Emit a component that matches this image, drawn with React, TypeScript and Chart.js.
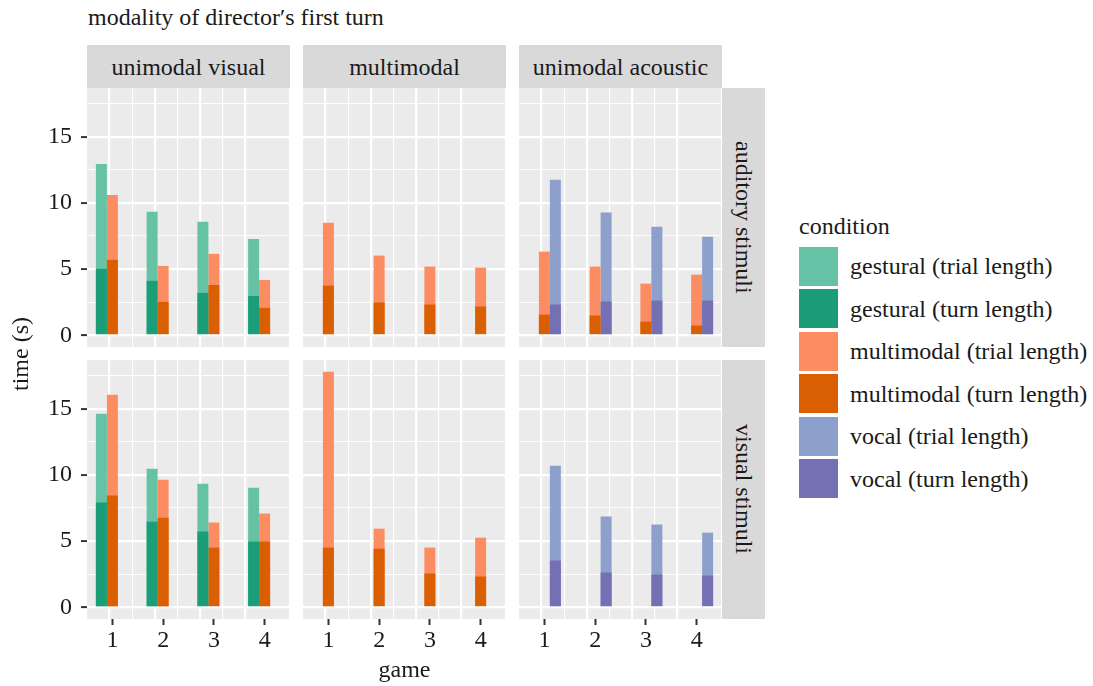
import React, { useEffect, useRef } from 'react';
import { Chart, registerables } from 'chart.js';

Chart.register(...registerables);

// ---------- data ----------
const GAMES = ['1', '2', '3', '4'];
const ROW_LABELS = ['auditory stimuli', 'visual stimuli'];
const COL_LABELS = ['unimodal visual', 'multimodal', 'unimodal acoustic'];

// auditory stimuli (top row)
const AUD_UV_GESTURAL_TRIAL = [12.95, 9.33, 8.57, 7.28];
const AUD_UV_GESTURAL_TURN = [5.02, 4.11, 3.2, 2.97];
const AUD_UV_MULTI_TRIAL = [10.61, 5.24, 6.15, 4.18];
const AUD_UV_MULTI_TURN = [5.7, 2.52, 3.8, 2.07];
const AUD_MM_MULTI_TRIAL = [8.51, 6.02, 5.19, 5.11];
const AUD_MM_MULTI_TURN = [3.75, 2.47, 2.32, 2.17];
const AUD_UA_MULTI_TRIAL = [6.32, 5.19, 3.9, 4.58];
const AUD_UA_MULTI_TURN = [1.56, 1.49, 1.03, 0.73];
const AUD_UA_VOCAL_TRIAL = [11.76, 9.27, 8.21, 7.45];
const AUD_UA_VOCAL_TURN = [2.32, 2.55, 2.62, 2.62];

// visual stimuli (bottom row)
const VIS_UV_GESTURAL_TRIAL = [14.63, 10.47, 9.34, 9.04];
const VIS_UV_GESTURAL_TURN = [7.91, 6.47, 5.72, 4.96];
const VIS_UV_MULTI_TRIAL = [16.06, 9.64, 6.4, 7.08];
const VIS_UV_MULTI_TURN = [8.44, 6.77, 4.51, 4.96];
const VIS_MM_MULTI_TRIAL = [17.8, 5.94, 4.51, 5.26];
const VIS_MM_MULTI_TURN = [4.51, 4.43, 2.55, 2.32];
const VIS_UA_VOCAL_TRIAL = [10.7, 6.85, 6.25, 5.64];
const VIS_UA_VOCAL_TURN = [3.53, 2.62, 2.47, 2.39];

const Y_TICK_STEP = 2.5;

const LEGEND_LABELS = [
  'gestural (trial length)',
  'gestural (turn length)',
  'multimodal (trial length)',
  'multimodal (turn length)',
  'vocal (trial length)',
  'vocal (turn length)',
];
const LEGEND_COLORS = ['#66C2A5', '#1B9E77', '#FC8D62', '#D95F02', '#8DA0CB', '#7570B3'];

type PanelData = {
  gTrial: number[];
  gTurn: number[];
  mTrial: number[];
  mTurn: number[];
  vTrial: number[];
  vTurn: number[];
};

const PANELS: PanelData[][] = [
  [
    { gTrial: AUD_UV_GESTURAL_TRIAL, gTurn: AUD_UV_GESTURAL_TURN, mTrial: AUD_UV_MULTI_TRIAL, mTurn: AUD_UV_MULTI_TURN, vTrial: [], vTurn: [] },
    { gTrial: [], gTurn: [], mTrial: AUD_MM_MULTI_TRIAL, mTurn: AUD_MM_MULTI_TURN, vTrial: [], vTurn: [] },
    { gTrial: [], gTurn: [], mTrial: AUD_UA_MULTI_TRIAL, mTurn: AUD_UA_MULTI_TURN, vTrial: AUD_UA_VOCAL_TRIAL, vTurn: AUD_UA_VOCAL_TURN },
  ],
  [
    { gTrial: VIS_UV_GESTURAL_TRIAL, gTurn: VIS_UV_GESTURAL_TURN, mTrial: VIS_UV_MULTI_TRIAL, mTurn: VIS_UV_MULTI_TURN, vTrial: [], vTurn: [] },
    { gTrial: [], gTurn: [], mTrial: VIS_MM_MULTI_TRIAL, mTurn: VIS_MM_MULTI_TURN, vTrial: [], vTurn: [] },
    { gTrial: [], gTurn: [], mTrial: [], mTurn: [], vTrial: VIS_UA_VOCAL_TRIAL, vTurn: VIS_UA_VOCAL_TURN },
  ],
];

// ---------- layout ----------
const FONT = "'Liberation Serif', 'Times New Roman', serif";
const TEXT = '#1a1a1a';
const FS = 24;
const COL_X = [87, 303, 519];
const PANEL_W = 203;
const ROW_Y = [88, 360];
const PANEL_H = 259;
const Y_AXIS_W = 87;
const X_AXIS_H = 60;
const STRIP_TOP = 45;
const STRIP_H = 43;
const RSTRIP_X = 722;
const RSTRIP_W = 43;

// y limits (ggplot-style 5% expansion of 0..max)
const allVals = PANELS.flat().flatMap((p) => [...p.gTrial, ...p.mTrial, ...p.vTrial]);
const Y_MAXDATA = Math.max(...allVals);
const Y_MIN = -0.05 * Y_MAXDATA;
const Y_MAX = 1.05 * Y_MAXDATA;

const panelBg = {
  id: 'panelBg',
  beforeDraw(chart: any) {
    const { ctx, chartArea: a } = chart;
    ctx.save();
    ctx.fillStyle = '#EBEBEB';
    ctx.fillRect(a.left, a.top, a.right - a.left, a.bottom - a.top);
    ctx.restore();
  },
};

function Panel({ row, col }: { row: number; col: number }) {
  const ref = useRef<HTMLCanvasElement | null>(null);
  const showY = col === 0;
  const showX = row === 1;
  const left = showY ? COL_X[0] - Y_AXIS_W : COL_X[col];
  const width = showY ? Y_AXIS_W + PANEL_W : PANEL_W;
  const top = ROW_Y[row];
  const height = PANEL_H + (showX ? X_AXIS_H : 0);

  useEffect(() => {
    const p = PANELS[row][col];
    const mk = (label: string, data: number[], color: string, stack: string) => ({
      label,
      data,
      backgroundColor: color,
      borderWidth: 0,
      stack,
      xAxisID: 'x',
      yAxisID: 'y',
      categoryPercentage: 0.65,
      barPercentage: 1,
    });
    const datasets = [
      mk(LEGEND_LABELS[1], p.gTurn, LEGEND_COLORS[1], 'gestural'),
      mk(LEGEND_LABELS[3], p.mTurn, LEGEND_COLORS[3], 'multimodal'),
      mk(LEGEND_LABELS[5], p.vTurn, LEGEND_COLORS[5], 'vocal'),
      mk(LEGEND_LABELS[0], p.gTrial, LEGEND_COLORS[0], 'gestural'),
      mk(LEGEND_LABELS[2], p.mTrial, LEGEND_COLORS[2], 'multimodal'),
      mk(LEGEND_LABELS[4], p.vTrial, LEGEND_COLORS[4], 'vocal'),
    ];
    const font = { family: FONT, size: FS, lineHeight: 1 };
    const chart = new Chart(ref.current as HTMLCanvasElement, {
      type: 'bar',
      data: { labels: GAMES, datasets: datasets as any },
      plugins: [panelBg],
      options: {
        animation: false,
        responsive: false,
        maintainAspectRatio: false,
        devicePixelRatio: 1,
        layout: { padding: 0 },
        plugins: { legend: { display: false }, tooltip: { enabled: false } },
        scales: {
          x: {
            type: 'category',
            stacked: true,
            offset: true,
            position: 'bottom',
            border: { display: false },
            grid: {
              display: showX,
              drawOnChartArea: false,
              drawTicks: showX,
              offset: false,
              tickLength: 6,
              tickWidth: 2,
              tickColor: '#333333',
            },
            ticks: { display: showX, padding: 4, font, color: TEXT, maxRotation: 0, autoSkip: false },
            afterFit: (s: any) => {
              s.height = showX ? X_AXIS_H : 0;
              s.paddingLeft = 0;
              s.paddingRight = 0;
            },
          },
          xg: {
            type: 'linear',
            position: 'top',
            min: 0.5,
            max: 4.5,
            border: { display: false },
            ticks: { display: false, stepSize: 0.5 },
            grid: {
              drawTicks: false,
              color: (c: any) =>
                c.tick && (c.tick.value <= 0.5 || c.tick.value >= 4.5) ? 'rgba(0,0,0,0)' : '#FFFFFF',
              lineWidth: (c: any) => (c.tick && Number.isInteger(c.tick.value) ? 2.2 : 1.1),
            },
            afterFit: (s: any) => {
              s.height = 0;
              s.paddingLeft = 0;
              s.paddingRight = 0;
            },
          },
          y: {
            type: 'linear',
            stacked: false,
            position: 'left',
            min: Y_MIN,
            max: Y_MAX,
            border: { display: false },
            ticks: {
              display: showY,
              stepSize: Y_TICK_STEP,
              includeBounds: false,
              padding: 9,
              font,
              color: TEXT,
              callback: (v: any) => (Math.abs(v % 5) < 1e-9 ? String(v) : ''),
            },
            grid: {
              color: '#FFFFFF',
              lineWidth: (c: any) => (c.tick && Math.abs(c.tick.value % 5) < 1e-9 ? 2.2 : 1.1),
              drawTicks: showY,
              tickLength: 6,
              tickWidth: 2,
              tickColor: (c: any) =>
                c.tick && Math.abs(c.tick.value % 5) < 1e-9 ? '#333333' : 'rgba(0,0,0,0)',
            },
            afterFit: (s: any) => {
              s.width = showY ? Y_AXIS_W : 0;
              s.paddingTop = 0;
              s.paddingBottom = 0;
            },
          },
        },
      } as any,
    });
    return () => chart.destroy();
  }, [row, col]);

  return (
    <canvas
      ref={ref}
      width={width}
      height={height}
      style={{ position: 'absolute', left, top, width, height, display: 'block' }}
    />
  );
}

const textBase: React.CSSProperties = {
  position: 'absolute',
  fontFamily: FONT,
  fontSize: FS,
  color: TEXT,
  lineHeight: 1,
  whiteSpace: 'nowrap',
};

export default function App() {
  return (
    <div
      style={{
        position: 'fixed',
        left: 0,
        top: 0,
        width: 1093,
        height: 686,
        background: '#FFFFFF',
        overflow: 'hidden',
      }}
    >
      <div style={{ ...textBase, left: 88, top: 5 }}>modality of director′s first turn</div>

      {COL_LABELS.map((t, c) => (
        <div
          key={t}
          style={{
            ...textBase,
            left: COL_X[c],
            top: STRIP_TOP,
            width: PANEL_W,
            height: STRIP_H,
            background: '#D9D9D9',
            display: 'flex',
            alignItems: 'center',
            justifyContent: 'center',
          }}
        >
          {t}
        </div>
      ))}

      {ROW_LABELS.map((t, r) => (
        <div
          key={t}
          style={{
            ...textBase,
            left: RSTRIP_X,
            top: ROW_Y[r],
            width: RSTRIP_W,
            height: PANEL_H,
            background: '#D9D9D9',
            display: 'flex',
            alignItems: 'center',
            justifyContent: 'center',
          }}
        >
          <span style={{ writingMode: 'vertical-rl' }}>{t}</span>
        </div>
      ))}

      {[0, 1].map((r) => [0, 1, 2].map((c) => <Panel key={`${r}-${c}`} row={r} col={c} />))}

      <div
        style={{
          ...textBase,
          left: 0,
          top: ROW_Y[0],
          width: 40,
          height: ROW_Y[1] + PANEL_H - ROW_Y[0],
          display: 'flex',
          alignItems: 'center',
          justifyContent: 'center',
        }}
      >
        <span style={{ writingMode: 'vertical-rl', transform: 'rotate(180deg)' }}>time (s)</span>
      </div>

      <div
        style={{
          ...textBase,
          left: COL_X[0],
          top: 657,
          width: COL_X[2] + PANEL_W - COL_X[0],
          textAlign: 'center',
        }}
      >
        game
      </div>

      <div style={{ ...textBase, left: 799, top: 214 }}>condition</div>
      {LEGEND_LABELS.map((lab, i) => {
        const kt = 246.7 + i * 42.46;
        return (
          <React.Fragment key={lab}>
            <div
              style={{
                position: 'absolute',
                left: 799,
                top: kt,
                width: 39,
                height: 39,
                background: LEGEND_COLORS[i],
              }}
            />
            <div
              style={{
                ...textBase,
                left: 850,
                top: kt,
                height: 39,
                display: 'flex',
                alignItems: 'center',
              }}
            >
              {lab}
            </div>
          </React.Fragment>
        );
      })}
    </div>
  );
}
